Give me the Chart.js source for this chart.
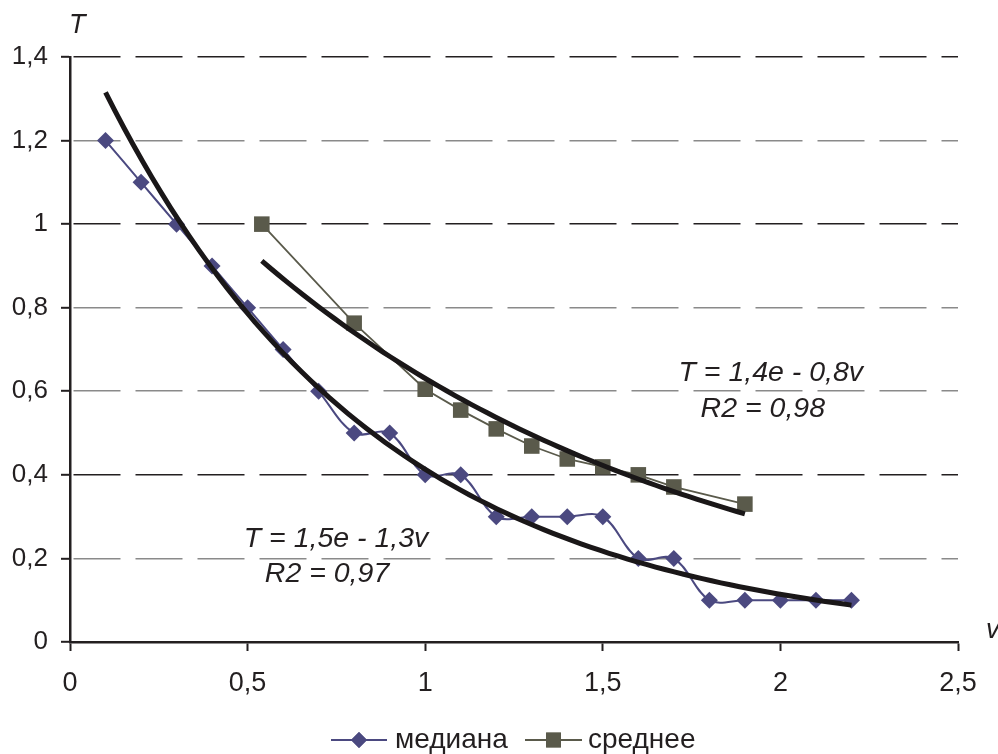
<!DOCTYPE html>
<html>
<head>
<meta charset="utf-8">
<script src="https://cdn.jsdelivr.net/npm/chart.js@4"></script>
<style>
html,body{margin:0;padding:0;background:#fff;}
#wrap{width:998px;height:754px;position:relative;}
</style>
</head>
<body>
<div id="wrap"><canvas id="c" width="998" height="754"></canvas></div>
<script>
// ---- data ----
const medianV = [0.1,0.2,0.3,0.4,0.5,0.6,0.7,0.8,0.9,1.0,1.1,1.2,1.3,1.4,1.5,1.6,1.7,1.8,1.9,2.0,2.1,2.2];
const medianT = [1.2,1.1,1.0,0.9,0.8,0.7,0.6,0.5,0.5,0.4,0.4,0.3,0.3,0.3,0.3,0.2,0.2,0.1,0.1,0.1,0.1,0.1];
const meanV = [0.54,0.8,1.0,1.1,1.2,1.3,1.4,1.5,1.6,1.7,1.9];
const meanT = [1.0,0.763,0.605,0.555,0.51,0.469,0.438,0.419,0.40,0.371,0.33];
const seriesNames = ['медиана','среднее'];
const xTickLabels = ['0','0,5','1','1,5','2','2,5'];
const yTickLabels = ['0','0,2','0,4','0,6','0,8','1','1,2','1,4'];
const trendLabels = [['T = 1,5e - 1,3v','R2 = 0,97'],['T = 1,4e - 0,8v','R2 = 0,98']];
const axisTitles = {x:'v', y:'T'};

// exponential least-squares trend (as a spreadsheet trendline does)
function expTrend(xs, ys, steps){
  const n = xs.length;
  const ly = ys.map(Math.log);
  const mx = xs.reduce((a,b)=>a+b,0)/n;
  const my = ly.reduce((a,b)=>a+b,0)/n;
  let sxy=0,sxx=0;
  for(let i=0;i<n;i++){sxy+=(xs[i]-mx)*(ly[i]-my);sxx+=(xs[i]-mx)*(xs[i]-mx);}
  const b = sxy/sxx, a = Math.exp(my-b*mx);
  const x0 = Math.min(...xs), x1 = Math.max(...xs);
  const pts=[];
  for(let i=0;i<=steps;i++){const x=x0+(x1-x0)*i/steps;pts.push({x:x,y:a*Math.exp(b*x)});}
  return pts;
}
const toPts = (xs,ys)=>xs.map((x,i)=>({x:x,y:ys[i]}));

const INK = '#231f20';
const MED = '#4b4980';
const MEAN = '#5a5a4b';
const FONT = '"Liberation Sans", Arial, Helvetica, sans-serif';

const overlay = {
  id:'overlay',
  afterDraw(chart){
    const ctx = chart.ctx, xs = chart.scales.x, ys = chart.scales.y;
    ctx.save();
    ctx.fillStyle = INK;
    // axis titles
    ctx.font = 'italic 27px ' + FONT;
    ctx.textBaseline = 'alphabetic';
    ctx.textAlign = 'left';
    ctx.fillText(axisTitles.y, 69, 33);
    ctx.fillText(axisTitles.x, 986, 638);
    // trend equations
    ctx.font = 'italic 28.5px ' + FONT;
    ctx.textAlign = 'center';
    const ann = [
      {x:0.749, y:0.228, dy:35, dx:-9, lines:trendLabels[0]},
      {x:1.973, y:0.625, dy:36, dx:-8, lines:trendLabels[1]}
    ];
    ann.forEach(a=>{
      const px = xs.getPixelForValue(a.x), py = ys.getPixelForValue(a.y);
      ctx.fillText(a.lines[0], px, py);
      ctx.fillText(a.lines[1], px + a.dx, py + a.dy);
    });
    // legend
    const legY = 740;
    const items = [
      {x1:331, x2:387, tx:395, color:MED, style:'rectRot', r:8, name:seriesNames[0], w:2},
      {x1:525, x2:582, tx:588, color:MEAN, style:'rect', r:10.5, name:seriesNames[1], w:2}
    ];
    ctx.textAlign = 'left';
    ctx.textBaseline = 'middle';
    ctx.font = '28px ' + FONT;
    items.forEach(it=>{
      ctx.strokeStyle = it.color; ctx.lineWidth = it.w;
      ctx.beginPath(); ctx.moveTo(it.x1, legY); ctx.lineTo(it.x2, legY); ctx.stroke();
      ctx.fillStyle = it.color;
      Chart.helpers.drawPoint(ctx, {pointStyle:it.style, radius:it.r, rotation:0, borderWidth:0}, (it.x1+it.x2)/2, legY);
      ctx.fill();
      ctx.fillStyle = INK;
      ctx.fillText(it.name, it.tx, legY);
    });
    ctx.restore();
  }
};

new Chart(document.getElementById('c'), {
  type:'line',
  data:{
    datasets:[
      {label:'trend1', data:expTrend(medianV, medianT, 80), borderColor:'#1a1718', borderWidth:5, pointRadius:0, tension:0, order:0},
      {label:'trend2', data:expTrend(meanV, meanT, 60), borderColor:'#1a1718', borderWidth:5, pointRadius:0, tension:0, order:0},
      {label:seriesNames[0], data:toPts(medianV, medianT), borderColor:MED, backgroundColor:MED, borderWidth:2,
        pointStyle:'rectRot', pointRadius:8.5, pointBorderWidth:0, tension:0.35, order:1},
      {label:seriesNames[1], data:toPts(meanV, meanT), borderColor:MEAN, backgroundColor:MEAN, borderWidth:1.8,
        pointStyle:'rect', pointRadius:11, pointBorderWidth:0, tension:0, order:1}
    ]
  },
  options:{
    responsive:false,
    animation:false,
    devicePixelRatio:1,
    layout:{padding:{top:57, right:40, left:0, bottom:0}},
    plugins:{legend:{display:false}, tooltip:{enabled:false}},
    scales:{
      x:{
        type:'linear', min:0, max:2.5,
        afterFit(s){ s.height = 112; },
        afterBuildTicks(s){ s.ticks = xTickLabels.map((_,i)=>({value:i*0.5})); },
        ticks:{ callback:(v,i)=>xTickLabels[i], color:INK, font:{family:FONT, size:27}, padding:16, maxRotation:0, autoSkip:false },
        grid:{ drawOnChartArea:false, drawTicks:true, tickLength:9, tickColor:INK, tickWidth:2 },
        border:{ display:true, color:INK, width:2.5 }
      },
      y:{
        type:'linear', min:0, max:1.4,
        afterFit(s){ s.width = 70; },
        afterBuildTicks(s){ s.ticks = yTickLabels.map((_,i)=>({value:i*0.2})); },
        ticks:{ callback:(v,i)=>yTickLabels[i], color:INK, font:{family:FONT, size:26}, padding:13, autoSkip:false },
        grid:{
          drawOnChartArea:true, drawTicks:true, tickLength:9, tickWidth:2, tickColor:INK, tickBorderDash:[],
          lineWidth:1.6,
          color:(ctx)=>{ const i = ctx.index; return (i===7||i===5||i===2) ? INK : '#8a8a8a'; }
        },
        border:{ display:true, color:INK, width:2.5, dash:[47,15], dashOffset:-2 }
      }
    }
  },
  plugins:[overlay]
});
</script>
</body>
</html>
